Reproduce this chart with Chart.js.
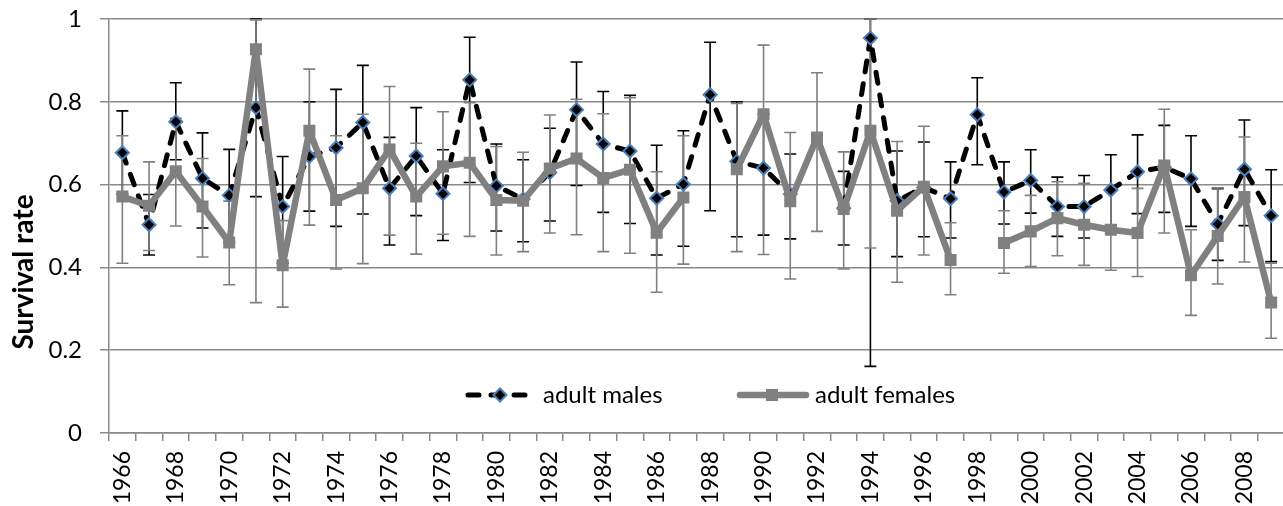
<!DOCTYPE html>
<html>
<head>
<meta charset="utf-8">
<script src="https://cdn.jsdelivr.net/npm/chart.js@4.4.1/dist/chart.umd.min.js"></script>
<style>
  html, body { margin: 0; padding: 0; background: #fff; overflow: hidden; }
  #wrap { width: 1283px; height: 506px; overflow: hidden; position: relative; }
  canvas { display: block; }
</style>
</head>
<body>
<div id="wrap"><canvas id="c" width="1293" height="506"></canvas></div>
<script>
const years = [1966,1967,1968,1969,1970,1971,1972,1973,1974,1975,1976,1977,1978,1979,1980,1981,1982,1983,1984,1985,1986,1987,1988,1989,1990,1991,1992,1993,1994,1995,1996,1997,1998,1999,2000,2001,2002,2003,2004,2005,2006,2007,2008,2009];

const males = [0.677,0.503,0.752,0.615,0.574,0.786,0.547,0.668,0.689,0.750,0.591,0.669,0.578,0.853,0.597,0.565,0.629,0.781,0.698,0.681,0.567,0.601,0.817,0.656,0.640,0.577,null,0.543,0.954,0.561,0.593,0.566,0.769,0.582,0.610,0.547,0.547,0.587,0.631,0.642,0.614,0.505,0.637,0.525];
const malesUpper = [0.778,0.576,0.846,0.725,0.685,1.0,0.668,0.800,0.830,0.888,0.714,0.786,0.684,0.956,0.698,0.660,0.736,0.896,0.825,0.816,0.695,0.730,0.944,0.80,0.77,0.674,null,0.632,1.0,0.681,0.703,0.655,0.858,0.655,0.684,0.618,0.622,0.672,0.720,0.743,0.718,0.590,0.756,0.636];
const malesLower = [0.577,0.430,0.66,0.495,0.46,0.571,0.41,0.536,0.499,0.529,0.454,0.525,0.465,0.605,0.488,0.462,0.512,0.598,0.533,0.506,0.430,0.451,0.537,0.474,0.478,0.469,null,0.454,0.161,0.426,0.474,0.471,0.648,0.505,0.531,0.475,0.471,0.502,0.530,0.533,0.499,0.417,0.501,0.414];

const females = [0.571,0.549,0.632,0.547,0.460,0.927,0.405,0.730,0.563,0.591,0.685,0.571,0.644,0.653,0.563,0.561,0.639,0.663,0.616,0.636,0.484,0.569,null,0.637,0.770,0.560,0.714,0.541,0.730,0.537,0.595,0.418,null,0.459,0.487,0.519,0.503,0.491,0.483,0.646,0.381,0.476,0.570,0.315];
const femalesUpper = [0.718,0.655,0.76,0.663,0.56,0.998,0.513,0.879,0.718,0.77,0.837,0.700,0.776,0.798,0.692,0.678,0.768,0.806,0.771,0.81,0.631,0.718,null,0.796,0.937,0.726,0.870,0.679,1.0,0.704,0.741,0.508,null,0.537,0.574,0.607,0.603,0.589,0.591,0.782,0.491,0.592,0.715,0.41];
const femalesLower = [0.410,0.441,0.500,0.425,0.358,0.315,0.304,0.502,0.396,0.409,0.478,0.432,0.480,0.475,0.430,0.438,0.483,0.479,0.438,0.434,0.340,0.408,null,0.438,0.431,0.372,0.487,0.396,0.447,0.364,0.430,0.334,null,0.386,0.402,0.428,0.405,0.393,0.378,0.483,0.284,0.360,0.413,0.229];

const yTicks = [0, 0.2, 0.4, 0.6, 0.8, 1];
const yTitle = 'Survival rate';
const seriesNames = ['adult males', 'adult females'];

const GRID = '#8a8a8a';
const FEM = '#808080';
const FONT = 'Lato, "Liberation Sans", sans-serif';

const errorBars = {
  id: 'errorBars',
  beforeDatasetsDraw(chart) {
    const ctx = chart.ctx;
    const xs = chart.scales.x, ys = chart.scales.y;
    const sets = [
      {lo: malesLower, hi: malesUpper, color: '#000'},
      {lo: femalesLower, hi: femalesUpper, color: FEM}
    ];
    ctx.save();
    sets.forEach(s => {
      ctx.strokeStyle = s.color;
      ctx.lineWidth = 1.6;
      for (let i = 0; i < years.length; i++) {
        if (s.lo[i] == null || s.hi[i] == null) continue;
        const x = xs.getPixelForValue(i);
        const y1 = ys.getPixelForValue(s.lo[i]);
        const y2 = ys.getPixelForValue(s.hi[i]);
        ctx.beginPath();
        ctx.moveTo(x, y1); ctx.lineTo(x, y2);
        ctx.moveTo(x - 6, y1); ctx.lineTo(x + 6, y1);
        ctx.moveTo(x - 6, y2); ctx.lineTo(x + 6, y2);
        ctx.stroke();
      }
    });
    ctx.restore();
  },
  afterDraw(chart) {
    const ctx = chart.ctx;
    const a = chart.chartArea;
    ctx.save();
    // y axis title
    ctx.translate(24, 272);
    ctx.rotate(-Math.PI / 2);
    ctx.font = 'bold 28px ' + FONT;
    ctx.fillStyle = '#000';
    ctx.textAlign = 'center';
    ctx.textBaseline = 'middle';
    ctx.fillText(yTitle, 0, 0);
    ctx.restore();

    // legend inside plot
    const ly = a.bottom - 38;
    ctx.save();
    ctx.lineCap = 'round';
    ctx.strokeStyle = '#000';
    ctx.lineWidth = 5;
    ctx.setLineDash([11, 12]);
    ctx.beginPath();
    ctx.moveTo(468, ly); ctx.lineTo(528, ly);
    ctx.stroke();
    ctx.setLineDash([]);
    ctx.beginPath();
    ctx.moveTo(500, ly - 6.5); ctx.lineTo(506.5, ly); ctx.lineTo(500, ly + 6.5); ctx.lineTo(493.5, ly); ctx.closePath();
    ctx.fillStyle = '#000'; ctx.fill();
    ctx.strokeStyle = '#4a7ebb'; ctx.lineWidth = 2; ctx.stroke();

    ctx.strokeStyle = FEM; ctx.lineWidth = 6.5; ctx.lineCap = 'round';
    ctx.beginPath(); ctx.moveTo(740, ly); ctx.lineTo(806, ly); ctx.stroke();
    ctx.fillStyle = FEM; ctx.fillRect(766, ly - 6, 12, 12);

    ctx.fillStyle = '#000';
    ctx.font = '24px ' + FONT;
    ctx.textBaseline = 'middle';
    ctx.textAlign = 'left';
    ctx.fillText(seriesNames[0], 543, ly);
    ctx.fillText(seriesNames[1], 815, ly);
    ctx.restore();
  }
};

new Chart(document.getElementById('c'), {
  type: 'line',
  data: {
    labels: years.map(String),
    datasets: [
      {
        label: seriesNames[0],
        data: males,
        order: 2,
        borderColor: '#000',
        borderWidth: 5,
        borderDash: [11, 12],
        borderCapStyle: 'round',
        borderJoinStyle: 'round',
        pointStyle: 'rectRot',
        pointRadius: 6.5,
        pointBackgroundColor: '#000',
        pointBorderColor: '#4a7ebb',
        pointBorderWidth: 2,
        tension: 0,
        spanGaps: false
      },
      {
        label: seriesNames[1],
        data: females,
        order: 1,
        borderColor: FEM,
        borderWidth: 6.5,
        borderJoinStyle: 'round',
        pointStyle: 'rect',
        pointRadius: 8.5,
        pointBackgroundColor: FEM,
        pointBorderColor: FEM,
        pointBorderWidth: 0,
        tension: 0,
        spanGaps: false
      }
    ]
  },
  options: {
    responsive: false,
    animation: false,
    events: [],
    layout: { padding: { top: 19, left: 0, right: 0, bottom: 0 } },
    plugins: { legend: { display: false }, tooltip: { enabled: false } },
    scales: {
      x: {
        type: 'category',
        offset: true,
        grid: { offset: true, drawOnChartArea: false, drawTicks: true, tickLength: 8, color: GRID, lineWidth: 1.5 },
        border: { display: true, color: GRID, width: 1.5 },
        ticks: {
          autoSkip: false,
          maxRotation: 90,
          minRotation: 90,
          padding: 10,
          color: '#000',
          font: { family: FONT, size: 23 },
          callback: function(v, i) { return years[i] % 2 === 0 ? String(years[i]) : ''; }
        },
        afterFit(s) { s.height = 73; s.paddingLeft = 0; s.paddingRight = 0; }
      },
      y: {
        min: 0, max: 1,
        afterBuildTicks(s) { s.ticks = yTicks.map(v => ({ value: v })); },
        grid: { color: GRID, lineWidth: 1.5, tickLength: 9, drawTicks: true },
        border: { display: true, color: GRID, width: 1.5 },
        ticks: {
          padding: 18,
          color: '#000',
          font: { family: FONT, size: 24 },
          callback: v => String(v)
        },
        afterFit(s) { s.width = 109; s.paddingTop = 0; s.paddingBottom = 0; }
      }
    }
  },
  plugins: [errorBars]
});
</script>
</body>
</html>
